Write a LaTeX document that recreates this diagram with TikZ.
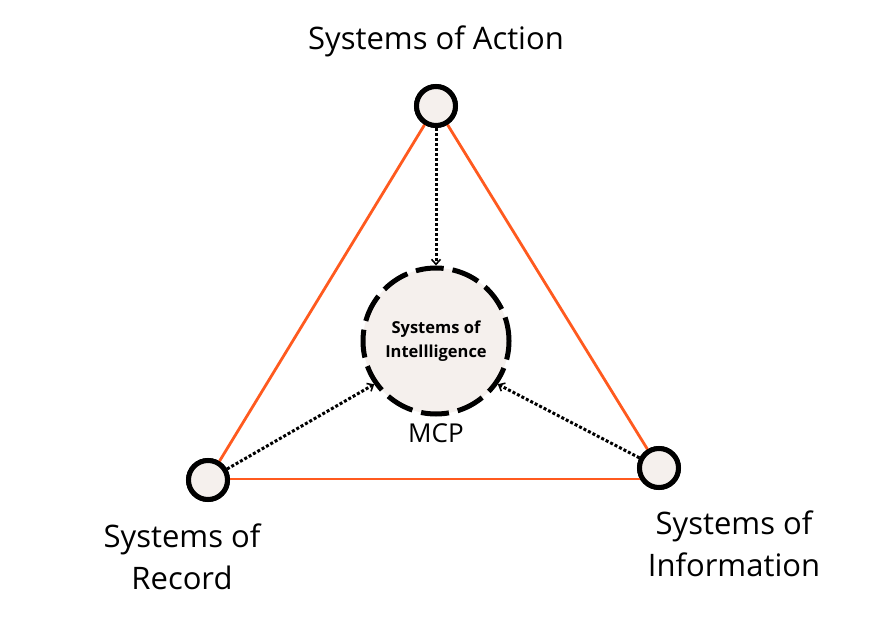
\documentclass[tikz,border=0pt]{standalone}
\usepackage{fontspec}
\setmainfont{Open Sans}
\usetikzlibrary{arrows.meta}
\definecolor{edgeorange}{HTML}{FF5A1F}
\definecolor{nodefill}{HTML}{F5F0ED}
\begin{document}
\begin{tikzpicture}[x=1pt,y=-1pt,
  smallnode/.style={circle,draw=black,line width=5pt,fill=nodefill,minimum size=39pt,inner sep=0pt},
  bignode/.style={circle,draw=black,line width=5pt,dash pattern=on 28pt off 9pt,dash phase=4pt,fill=nodefill,minimum size=146pt,inner sep=0pt,align=center,font=\bfseries\fontsize{16.5}{24}\selectfont},
  edge/.style={draw=edgeorange,line width=2.8pt},
  flow/.style={draw=black,line width=3pt,dotted,-{Straight Barb[length=5pt,width=9pt,line width=1.6pt]}},
  lbl/.style={font=\fontsize{31}{42}\selectfont,align=center,inner sep=0pt}
]
\useasboundingbox (0,0) rectangle (872,644);
\node[smallnode] (act) at (436,106) {};
\node[smallnode] (rec) at (208,480) {};
\node[smallnode] (inf) at (659,468) {};
\node[bignode] (sys) at (436,341) {Systems of\\Intellligence};
\coordinate (infL) at (640,479);
\path[edge] (act) -- (rec);
\path[edge] (act) -- (inf);
\path[edge] (rec.east |- infL) -- (infL);
\draw[flow] (act) -- (sys.north);
\draw[flow] (rec) -- (sys.-145);
\draw[flow] (inf) -- (sys.-35);
\node[smallnode] at (act) {};
\node[smallnode] at (rec) {};
\node[smallnode] at (inf) {};
\node[lbl] (lact) at (436,41) {Systems of Action};
\node[lbl] (lrec) at (182,557) {Systems of\\Record};
\node[lbl] (linf) at (734,544) {Systems of\\Information};
\node[font=\fontsize{26}{28}\selectfont,inner sep=0pt] (mcp) at (436,433) {MCP};
\end{tikzpicture}
\end{document}
